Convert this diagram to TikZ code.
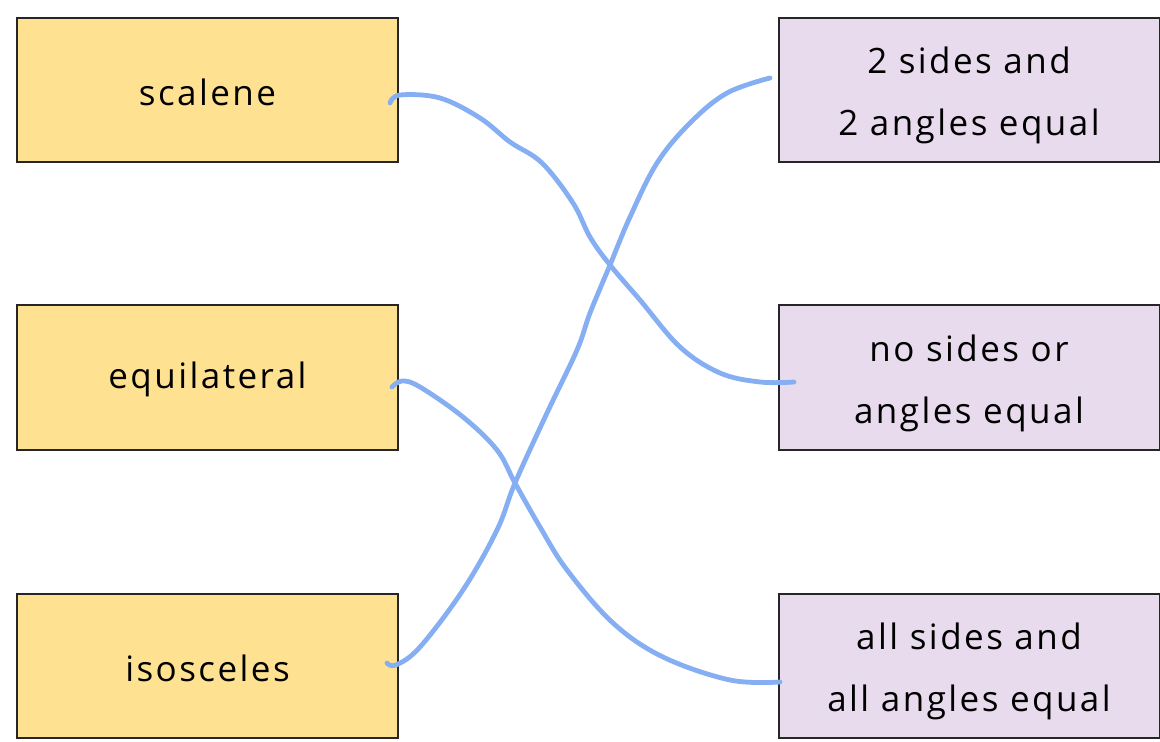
\documentclass[tikz,border=0pt]{standalone}
\usepackage{fontspec}
\setmainfont{Open Sans}[LetterSpace=7]
\definecolor{kindfill}{HTML}{FFE291}
\definecolor{rulefill}{HTML}{E8DBEE}
\definecolor{penblue}{HTML}{86AEF2}
\newcommand\lift{\rule{0pt}{19pt}}
\newcommand\nudge{\rule{0pt}{15.5pt}}

\begin{document}
\begin{tikzpicture}[x=0.5pt,y=-0.5pt]
\tikzstyle{every node}+=[inner sep=0pt]
\tikzstyle{kind}=[draw=black!85, line width=1pt, fill=kindfill, minimum width=190.5pt, minimum height=72pt, font=\fontsize{17.5}{31}\selectfont, align=center]
\tikzstyle{rule}=[kind, fill=rulefill]
\tikzstyle{wire}=[penblue, line width=2.4pt, line cap=round, line join=round]
\useasboundingbox (0,0) rectangle (1160,742);
% triangle names
\node [kind] (scalene) at (207.5,90) {\nudge scalene};
\node [kind] (equi) at (207.5,377.5) {\nudge equilateral};
\node [kind] (isos) at (207.5,666) {\nudge isosceles};
% properties
\node [rule] (twoeq) at (969,90) {\lift 2 sides and\\2 angles equal};
\node [rule] (noeq) at (969,377.5) {\lift no sides or\\angles equal};
\node [rule] (alleq) at (969,666) {\lift all sides and\\all angles equal};
% pen ends
\coordinate (s1) at (390,103);
\coordinate (e1) at (794,382);
\coordinate (s2) at (392,387);
\coordinate (e2) at (780,682);
\coordinate (s3) at (387,663);
\coordinate (e3) at (770,78);
% matching lines
\draw [wire] plot [smooth, tension=0.6] coordinates {(s1) (400,95) (440,98) (480,118) (510,142) (542,163) (573,203) (590,237) (610,265) (640,300) (680,347) (720,373) (760,382) (e1)};
\draw [wire] plot [smooth, tension=0.6] coordinates {(s2) (402,381) (420,387) (463,417) (497,450) (515,483) (540,527) (567,570) (613,623) (663,657) (730,680) (e2)};
\draw [wire] plot [smooth, tension=0.6] coordinates {(s3) (396,665) (420,647) (463,590) (497,530) (515,483) (547,413) (577,350) (590,313) (610,265) (630,217) (657,163) (690,123) (727,93) (e3)};
\end{tikzpicture}
\end{document}
